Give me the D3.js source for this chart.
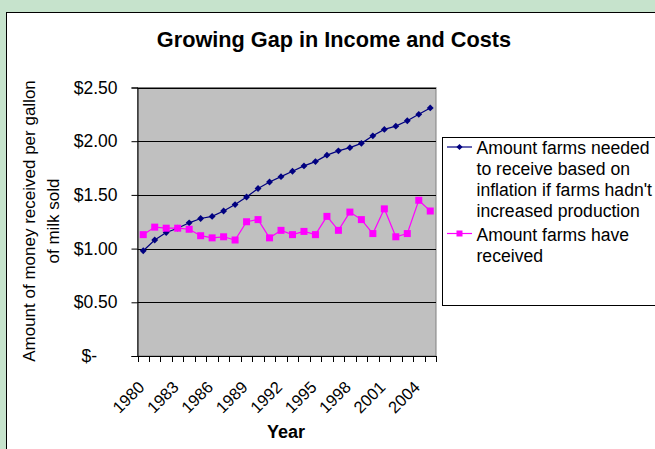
<!DOCTYPE html>
<html><head><meta charset="utf-8">
<script src="https://cdn.jsdelivr.net/npm/d3@7"></script>
<style>html,body{margin:0;padding:0;background:#c6e3cc;}svg{display:block;font-family:"Liberation Sans",Arial,sans-serif;}</style>
</head><body>
<svg id="c" width="655" height="449"></svg>
<script>
const years = d3.range(1980, 2006).map(String);
const neededValues = [0.98,1.08,1.15,1.19,1.24,1.28,1.30,1.35,1.41,1.48,1.56,1.62,1.67,1.72,1.77,1.81,1.87,1.91,1.94,1.98,2.05,2.11,2.14,2.19,2.25,2.31];
const receivedValues = [1.13,1.20,1.19,1.19,1.18,1.12,1.10,1.11,1.08,1.25,1.27,1.10,1.17,1.13,1.16,1.13,1.30,1.17,1.34,1.27,1.14,1.37,1.11,1.14,1.45,1.35];
const yTicks = [0,0.5,1,1.5,2,2.5];
const xLabels = ["1980","1983","1986","1989","1992","1995","1998","2001","2004"];
const seriesNames = ["Amount farms needed|to receive based on|inflation if farms hadn't|increased production","Amount farms have|received"];

const svg = d3.select("#c");
svg.append("rect").attr("x",0).attr("y",0).attr("width",655).attr("height",449).attr("fill","#c6e3cc");
svg.append("rect").attr("x",6.5).attr("y",12.5).attr("width",700).attr("height",500).attr("fill","#fff").attr("stroke","#000").attr("stroke-width",1);

const L=137.5,R=436,T=87.5,B=356;
const x = d3.scaleBand().domain(years).range([L,R]).paddingInner(0).paddingOuter(0);
const y = d3.scaleLinear().domain([0,2.5]).range([B,T]);
const cx = d => x(d)+x.bandwidth()/2;

svg.append("rect").attr("x",L).attr("y",T).attr("width",R-L).attr("height",B-T).attr("fill","#c0c0c0").attr("stroke","#808080");
svg.append("g").selectAll("line").data(yTicks.filter(v=>v>0)).join("line")
  .attr("x1",L).attr("x2",R).attr("y1",d=>Math.round(y(d))+0.5).attr("y2",d=>Math.round(y(d))+0.5).attr("stroke","#000").attr("stroke-width",1);

// y axis
const ya = svg.append("g").attr("transform",`translate(${L},0)`).call(d3.axisLeft(y).tickValues(yTicks).tickSize(6).tickPadding(14)
  .tickFormat(d=> d===0 ? "$-" : "$"+d3.format(".2f")(d)));
ya.select(".domain").attr("stroke","#000");
ya.selectAll(".tick line").attr("stroke","#000");
ya.selectAll(".tick text").attr("font-size",17.5).attr("fill","#000").attr("font-family","Liberation Sans, Arial, sans-serif")
  .attr("dx",d=>d===0?-20.5:0);

// x axis
const xa = svg.append("g");
xa.append("line").attr("x1",L).attr("x2",R).attr("y1",B+0.5).attr("y2",B+0.5).attr("stroke","#000");
const bounds = years.map(d=>x(d)).concat([R]);
xa.selectAll("line.t").data(bounds).join("line").attr("class","t")
  .attr("x1",d=>Math.round(d)+0.5).attr("x2",d=>Math.round(d)+0.5).attr("y1",B).attr("y2",B+6).attr("stroke","#000");
xa.selectAll("text").data(xLabels).join("text")
  .attr("transform",d=>`translate(${cx(d)-6},${B+24}) rotate(-45)`)
  .attr("text-anchor","end").attr("dy","0.7em").attr("font-size",16.5).attr("fill","#000").text(d=>d);

// lines
const line = vals => d3.line().x((d,i)=>cx(years[i])).y(d=>y(d))(vals);
svg.append("path").attr("d",line(neededValues)).attr("fill","none").attr("stroke","#000080").attr("stroke-width",1.2);
svg.append("path").attr("d",line(receivedValues)).attr("fill","none").attr("stroke","#ff00ff").attr("stroke-width",1.2);
svg.append("g").selectAll("path").data(neededValues).join("path")
  .attr("d",d3.symbol(d3.symbolDiamond2,30)).attr("transform",(d,i)=>`translate(${cx(years[i])},${y(d)})`).attr("fill","#000080");
svg.append("g").selectAll("rect").data(receivedValues).join("rect")
  .attr("x",(d,i)=>cx(years[i])-3.5).attr("y",d=>y(d)-3.5).attr("width",7).attr("height",7).attr("fill","#ff00ff");

// title
svg.append("text").attr("x",334).attr("y",47).attr("text-anchor","middle").attr("font-size",21.7).attr("font-weight","bold").text("Growing Gap in Income and Costs");
svg.append("text").attr("x",286).attr("y",438).attr("text-anchor","middle").attr("font-size",18).attr("font-weight","bold").text("Year");
const yt = svg.append("text").attr("transform","translate(0,221) rotate(-90)").attr("text-anchor","middle").attr("font-size",17);
yt.append("tspan").attr("x",0).attr("y",35).text("Amount of money received per gallon");
yt.append("tspan").attr("x",0).attr("y",59).text("of milk sold");

// legend
const lg = svg.append("g");
lg.append("rect").attr("x",442.5).attr("y",137.5).attr("width",300).attr("height",168).attr("fill","#fff").attr("stroke","#000");
const lineH = 21.1;
const colors = ["#000080","#ff00ff"];
const starts = [154,240.5];
seriesNames.forEach((s,k)=>{
  const ly = starts[k]-7;
  lg.append("line").attr("x1",447).attr("x2",472).attr("y1",ly).attr("y2",ly).attr("stroke",colors[k]).attr("stroke-width",1.2);
  if(k===0) lg.append("path").attr("d",d3.symbol(d3.symbolDiamond2,24)).attr("transform",`translate(459.5,${ly})`).attr("fill",colors[k]);
  else lg.append("rect").attr("x",456.5).attr("y",ly-3).attr("width",6).attr("height",6).attr("fill",colors[k]);
  s.split("|").forEach((t,j)=>{
    lg.append("text").attr("x",476.5).attr("y",starts[k]+j*lineH).attr("font-size",17.6).text(t);
  });
});
</script>
</body></html>
